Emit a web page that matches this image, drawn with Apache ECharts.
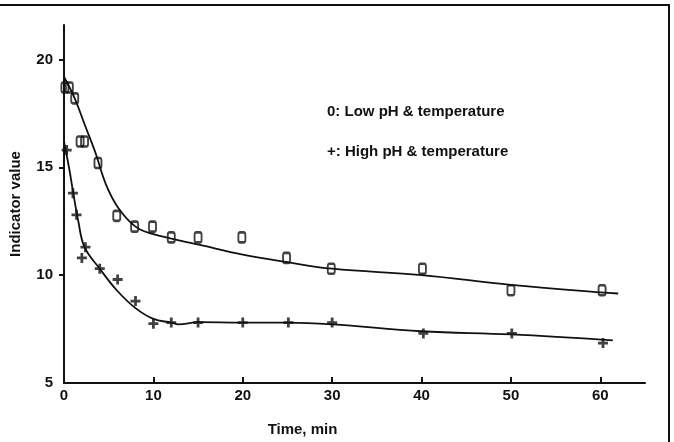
<!DOCTYPE html>
<html>
<head>
<meta charset="utf-8">
<script src="https://cdn.jsdelivr.net/npm/echarts@6/dist/echarts.min.js"></script>
<style>
  html, body { margin: 0; padding: 0; background: #fff; }
  #main { width: 674px; height: 442px; }
</style>
</head>
<body>
<div id="main"></div>
<script>
// measured points, [time (min), indicator value]
const lowPoints = [
  [0.1, 18.7], [0.6, 18.7], [1.2, 18.2], [1.8, 16.2], [2.3, 16.2],
  [3.8, 15.2], [5.9, 12.75], [7.9, 12.25], [9.9, 12.25], [12, 11.75],
  [15, 11.75], [19.9, 11.75], [24.9, 10.8], [29.9, 10.3], [40.1, 10.3],
  [50, 9.3], [60.2, 9.3],
];
const highPoints = [
  [0.3, 15.8], [1.0, 13.8], [1.4, 12.8], [2.0, 10.8], [2.4, 11.3],
  [4.0, 10.3], [6.0, 9.8], [8.0, 8.8], [10.0, 7.75], [12, 7.8],
  [15, 7.8], [20, 7.8], [25.1, 7.8], [30, 7.8], [40.2, 7.3],
  [50.1, 7.3], [60.3, 6.85],
];

// fitted curves
const lowCurve = [
  [0, 19.2], [1.2, 18.2], [2.3, 17.0], [3.5, 15.7], [4.7, 14.2],
  [6.1, 13.1], [8, 12.25], [10, 11.9], [12, 11.7], [15.2, 11.4],
  [20, 10.95], [25, 10.6], [30, 10.3], [40, 10.0], [50, 9.55],
  [60, 9.2], [62, 9.15],
];
const highCurve = [
  [0, 16.2], [0.6, 14.9], [1, 13.9], [1.6, 12.5], [2.3, 11.3],
  [4, 10.3], [5.9, 9.3], [8, 8.47], [10, 7.97], [12, 7.8],
  [12.8, 7.72], [15, 7.82], [20, 7.8], [25, 7.8], [30, 7.72],
  [40, 7.4], [50, 7.25], [61.4, 6.98],
];

const xTicks = [0, 10, 20, 30, 40, 50, 60];
const yTicks = [5, 10, 15, 20];

const ink = "#111";
const font = "Liberation Sans";

var chart = echarts.init(document.getElementById("main"));

var option = {
  backgroundColor: "#fff",
  animation: false,
  grid: { left: 60, right: 29, top: 25, bottom: 49 },
  xAxis: {
    type: "value",
    min: 0,
    max: 65,
    name: "Time, min",
    nameLocation: "middle",
    nameGap: 39,
    nameTextStyle: {
      color: ink, fontFamily: font, fontSize: 15, fontWeight: "bold",
      padding: [0, 104, 0, 0],
    },
    splitLine: { show: false },
    axisLine: { lineStyle: { color: ink, width: 2 } },
    axisTick: {
      inside: true, length: 6, customValues: xTicks.slice(1),
      lineStyle: { color: ink, width: 2 },
    },
    axisLabel: {
      customValues: xTicks, color: ink, fontFamily: font, fontSize: 15,
      fontWeight: "bold", margin: 5,
    },
  },
  yAxis: {
    type: "value",
    min: 5,
    max: 21.6,
    name: "Indicator value",
    nameLocation: "middle",
    nameGap: 41,
    nameTextStyle: { color: ink, fontFamily: font, fontSize: 15, fontWeight: "bold" },
    splitLine: { show: false },
    axisLine: { lineStyle: { color: ink, width: 2 } },
    axisTick: {
      length: 5, customValues: yTicks.slice(1),
      lineStyle: { color: ink, width: 2 },
    },
    axisLabel: {
      customValues: yTicks, color: ink, fontFamily: font, fontSize: 15,
      fontWeight: "bold", margin: 11,
    },
  },
  graphic: [
    {
      type: "polyline",
      shape: { points: [[0, 5], [669, 5], [669, 442]] },
      style: { stroke: ink, lineWidth: 2, fill: null },
    },
    {
      type: "text", left: 327, top: 104,
      style: { text: "0: Low pH & temperature", fill: ink, font: "bold 15px Liberation Sans" },
    },
    {
      type: "text", left: 327, top: 144,
      style: { text: "+: High pH & temperature", fill: ink, font: "bold 15px Liberation Sans" },
    },
  ],
  series: [
    {
      type: "line", data: lowCurve, smooth: 0.4, symbol: "none",
      lineStyle: { color: ink, width: 1.8 },
    },
    {
      type: "line", data: highCurve, smooth: 0.4, symbol: "none",
      lineStyle: { color: ink, width: 1.8 },
    },
    {
      type: "scatter", data: lowPoints, symbol: "roundRect", symbolSize: [7, 10],
      itemStyle: { color: "rgba(0,0,0,0)", borderColor: ink, borderWidth: 2.2 },
      z: 3,
    },
    {
      type: "scatter", data: highPoints,
      symbol: "path://M3.6,0H6.4V3.6H10V6.4H6.4V10H3.6V6.4H0V3.6H3.6Z", symbolSize: 10,
      itemStyle: { color: ink },
      z: 3,
    },
  ],
};

chart.setOption(option);
</script>
</body>
</html>
